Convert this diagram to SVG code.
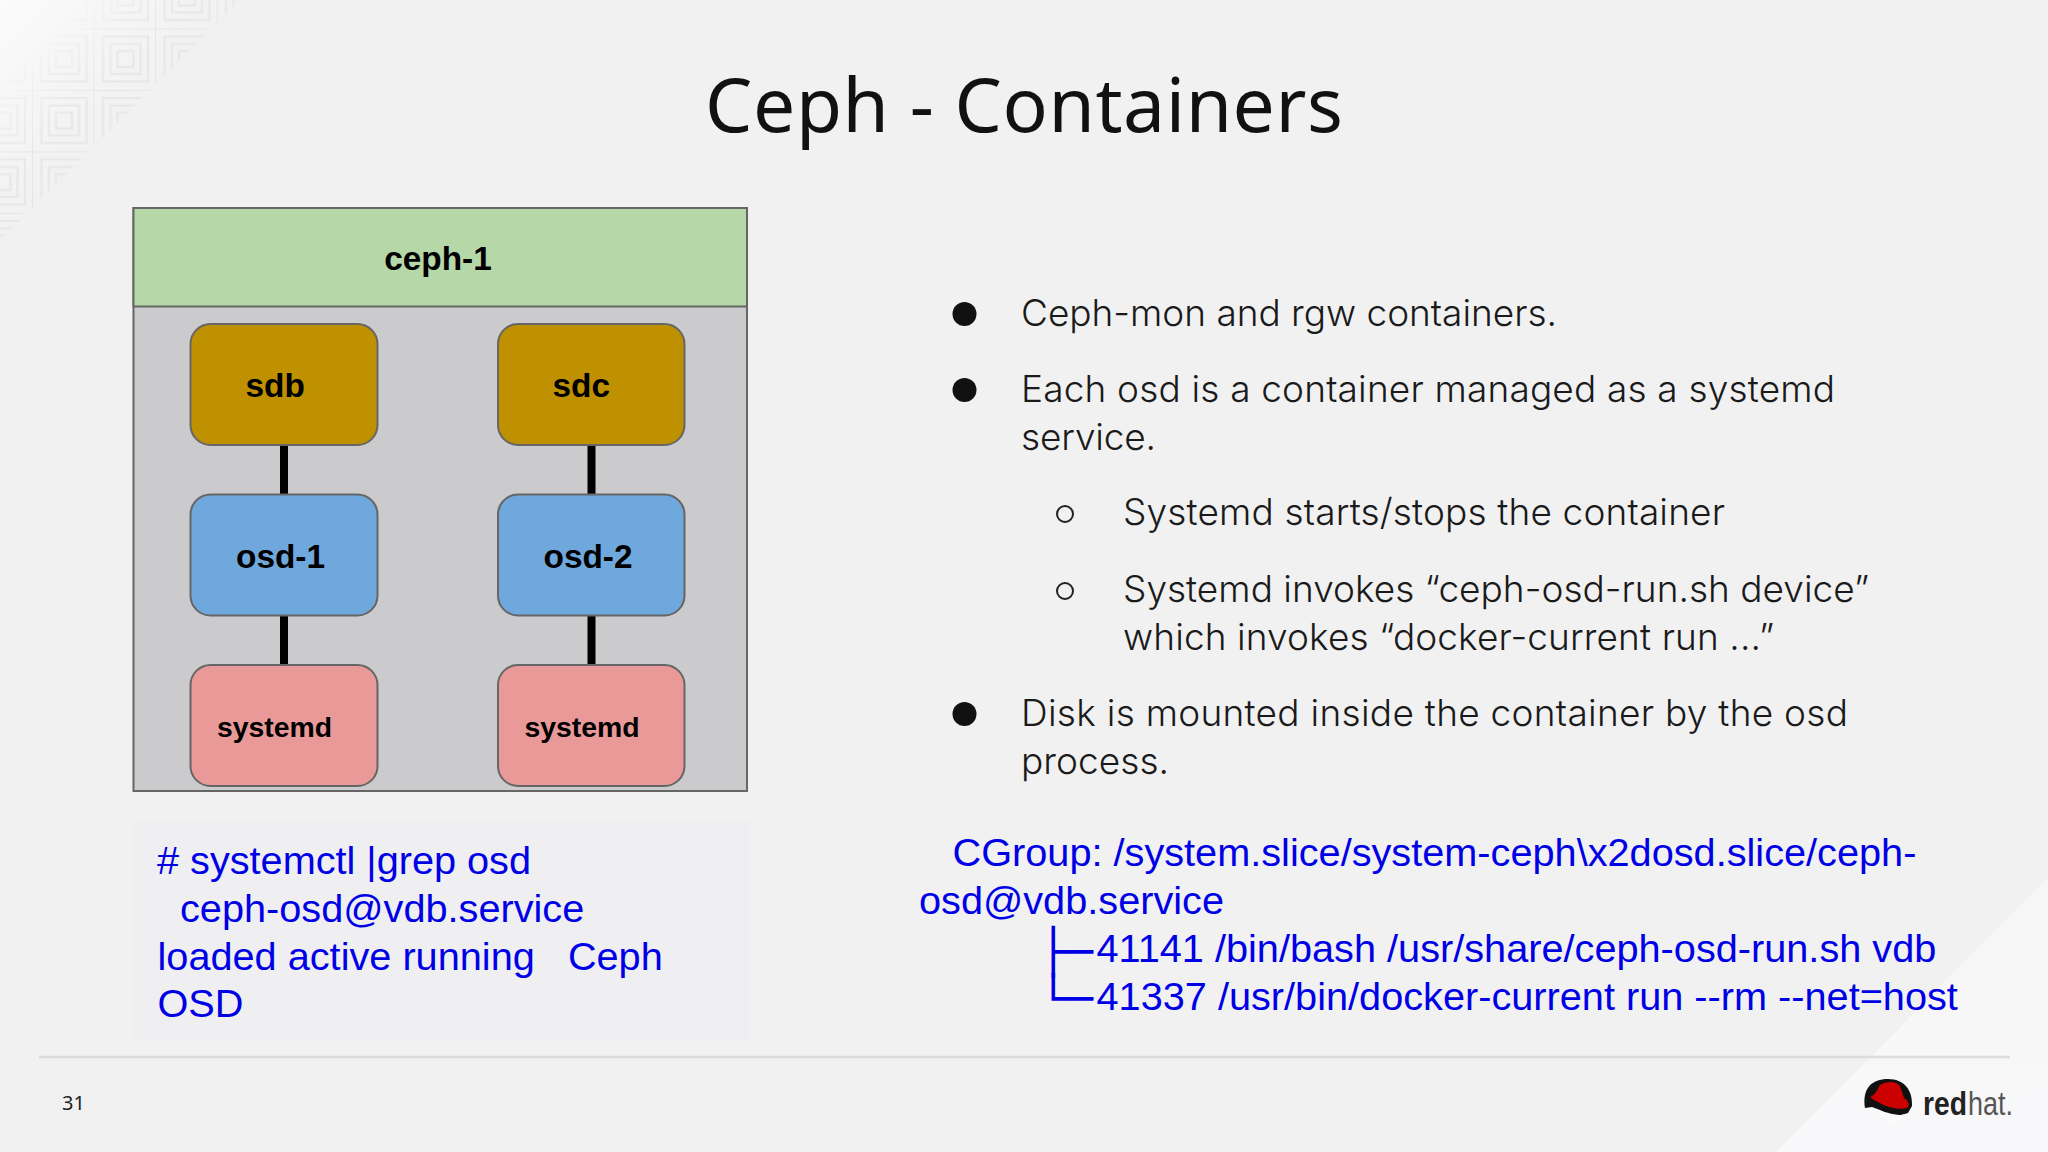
<svg xmlns="http://www.w3.org/2000/svg" width="2048" height="1152" viewBox="0 0 2048 1152">
<style>
.n{stroke:#666;stroke-width:2}
.nt{font-family:"Liberation Sans",Arial,sans-serif;font-weight:700;fill:#000;font-size:33.400px}
.st{font-size:28.400px}
.b{font-family:"Inter","Noto Sans",sans-serif;font-weight:300;font-size:37px;fill:#1a1a1a}
.u{font-family:"Liberation Sans",Arial,sans-serif;font-size:39.700px;fill:#0000e6}
.tree{font-family:"DejaVu Sans Mono",monospace;font-size:44px}
.c{stroke:#000;stroke-width:8;fill:none}
.m{fill:none;stroke:#e6e6e7;stroke-width:2}
</style>
<defs>
<linearGradient id="corner" gradientUnits="userSpaceOnUse" x1="0" y1="0" x2="120" y2="120">
<stop offset="0" stop-color="#fbfbfb"/><stop offset="1" stop-color="#f1f1f2"/>
</linearGradient>
<linearGradient id="fade" gradientUnits="userSpaceOnUse" x1="40" y1="40" x2="95" y2="95">
<stop offset="0" stop-color="#fff" stop-opacity="0"/><stop offset="1" stop-color="#fff"/>
</linearGradient>
<mask id="pm" maskUnits="userSpaceOnUse" x="0" y="0" width="300" height="300">
<polygon points="0,0 240,0 0,240" fill="url(#fade)"/>
</mask>
<pattern id="sq" patternUnits="userSpaceOnUse" x="32" y="28.500" width="61.500" height="61.500">
<path class="m" d="M0 0H61.500M0 0V61.500" stroke-width="1.500"/>
<rect class="m" x="9.500" y="8" width="45" height="45"/>
<rect class="m" x="17" y="15.500" width="30" height="30"/>
<rect class="m" x="24" y="22.500" width="16" height="16"/>
</pattern>
<linearGradient id="sheen" gradientUnits="userSpaceOnUse" x1="2048" y1="880" x2="2048" y2="1152">
<stop offset="0" stop-color="#f6f6f7"/><stop offset="1" stop-color="#f8f8fa"/>
</linearGradient>
</defs>

<rect width="2048" height="1152" fill="#f1f1f2"/>
<polygon points="0,0 240,0 0,240" fill="url(#corner)"/>
<rect width="300" height="300" fill="url(#sq)" mask="url(#pm)"/>
<polygon points="2048,878 2048,1152 1776,1152" fill="url(#sheen)"/>
<rect x="134" y="820" width="616" height="220" fill="#efeff1"/>

<text x="705" y="132" textLength="638" font-family="'Noto Sans',sans-serif" font-size="75" fill="#111">Ceph - Containers</text>

<g id="ceph-1">
<rect x="133.500" y="208" width="613.500" height="583" fill="#cbcbcd" stroke="#666" stroke-width="2"/>
<rect x="133.500" y="208" width="613.500" height="98.500" fill="#b6d7a8" stroke="#666" stroke-width="2"/>
<text class="nt" x="438" y="270" text-anchor="middle">ceph-1</text>
</g>

<g id="connectors">
<line class="c" x1="284" y1="445" x2="284" y2="495"/>
<line class="c" x1="284" y1="616" x2="284" y2="665"/>
<line class="c" x1="591.500" y1="445" x2="591.500" y2="495"/>
<line class="c" x1="591.500" y1="616" x2="591.500" y2="665"/>
</g>

<g id="sdb"><rect class="n" x="190.500" y="324" width="187" height="121" rx="20" fill="#bf9000"/><text class="nt" x="245.500" y="397">sdb</text></g>
<g id="sdc"><rect class="n" x="498" y="324" width="186.500" height="121" rx="20" fill="#bf9000"/><text class="nt" x="552.500" y="397">sdc</text></g>
<g id="osd-1"><rect class="n" x="190.500" y="494.500" width="187" height="121" rx="20" fill="#6fa8dc"/><text class="nt" x="236" y="568">osd-1</text></g>
<g id="osd-2"><rect class="n" x="498" y="494.500" width="186.500" height="121" rx="20" fill="#6fa8dc"/><text class="nt" x="543.500" y="568">osd-2</text></g>
<g id="systemd-1"><rect class="n" x="190.500" y="665" width="187" height="121" rx="20" fill="#ea9999"/><text class="nt st" x="217" y="737">systemd</text></g>
<g id="systemd-2"><rect class="n" x="498" y="665" width="186.500" height="121" rx="20" fill="#ea9999"/><text class="nt st" x="524.500" y="737">systemd</text></g>

<g id="bullets">
<circle cx="964.500" cy="314" r="12" fill="#111"/>
<text class="b" x="1021" y="326" textLength="536">Ceph-mon and rgw containers.</text>
<circle cx="964.500" cy="390" r="12" fill="#111"/>
<text class="b" x="1021" y="402" textLength="814">Each osd is a container managed as a systemd</text>
<text class="b" x="1021" y="450" textLength="135">service.</text>
<circle cx="1065" cy="514" r="8" fill="none" stroke="#222" stroke-width="2"/>
<text class="b" x="1123" y="525" textLength="602">Systemd starts/stops the container</text>
<circle cx="1065" cy="591" r="8" fill="none" stroke="#222" stroke-width="2"/>
<text class="b" x="1123" y="602" textLength="746">Systemd invokes “ceph-osd-run.sh device”</text>
<text class="b" x="1123" y="650" textLength="651">which invokes “docker-current run ...”</text>
<circle cx="964.500" cy="714" r="12" fill="#111"/>
<text class="b" x="1021" y="726" textLength="827">Disk is mounted inside the container by the osd</text>
<text class="b" x="1021" y="774" textLength="148">process.</text>
</g>

<g id="terminal-left">
<text class="u" x="157" y="874" textLength="374"># systemctl |grep osd</text>
<text class="u" x="180" y="921.500">ceph-osd@vdb.service</text>
<text class="u" x="157.500" y="969.500" xml:space="preserve">loaded active running   Ceph</text>
<text class="u" x="157.500" y="1017">OSD</text>
</g>

<g id="terminal-right">
<text class="u" x="952.500" y="866">CGroup: /system.slice/system-ceph\x2dosd.slice/ceph-</text>
<text class="u" x="919" y="914">osd@vdb.service</text>
<text class="u tree" x="1040" y="967">├─</text>
<text class="u" x="1096.500" y="962">41141 /bin/bash /usr/share/ceph-osd-run.sh vdb</text>
<text class="u tree" x="1040" y="1014">└─</text>
<text class="u" x="1096.500" y="1009.500">41337 /usr/bin/docker-current run --rm --net=host</text>
</g>

<line x1="39" y1="1057" x2="2010" y2="1057" stroke="#dcdcdd" stroke-width="2.500"/>
<text x="62" y="1110" font-family="'Noto Sans',sans-serif" font-size="20" fill="#222">31</text>

<g id="redhat-logo">
<path d="M1865 1108C1862 1088 1872 1079 1888 1079C1904 1079 1913 1090 1912 1106L1908 1113L1895 1117L1880 1110L1872 1107Z" fill="#111"/>
<path d="M1870 1097C1876 1095 1877 1089 1880 1085C1886 1081 1896 1081 1900 1086L1904 1098C1909 1101 1910 1105 1907 1108C1896 1111 1880 1105 1870 1097Z" fill="#cc0000"/>
<path d="M1874 1109C1886 1112 1898 1117 1905 1114L1896 1124C1886 1122 1878 1116 1874 1109Z" fill="#fbfbfc"/>
<text x="1923" y="1115" font-family="'Liberation Sans',sans-serif" font-size="33" font-weight="700" fill="#222" textLength="44" lengthAdjust="spacingAndGlyphs">red</text>
<text x="1968" y="1115" font-family="'Liberation Sans',sans-serif" font-size="33" fill="#555" textLength="45" lengthAdjust="spacingAndGlyphs">hat.</text>
</g>
</svg>
